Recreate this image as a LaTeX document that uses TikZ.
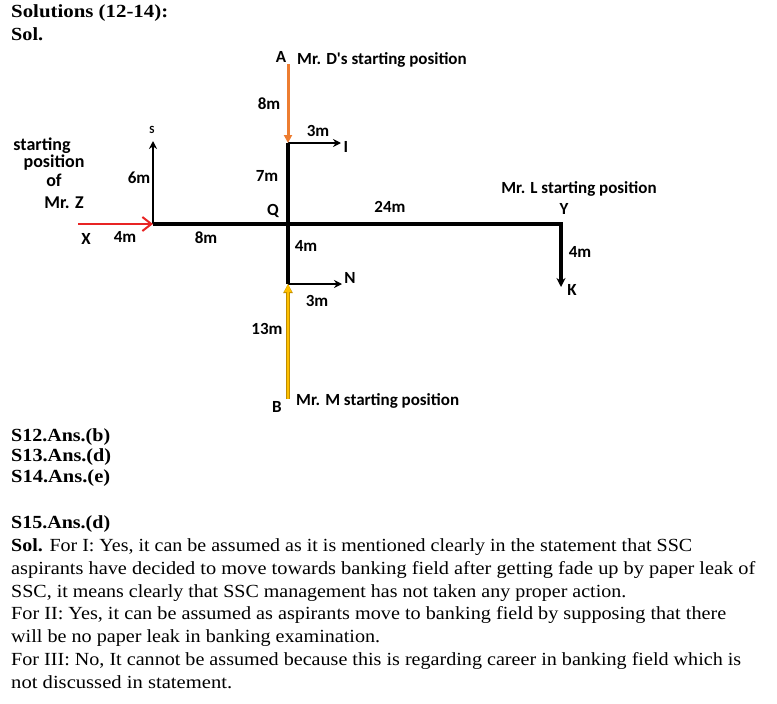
\documentclass[tikz,border=0pt]{standalone}
\usepackage{fontspec}
\usepackage{graphicx}
\setmainfont{Liberation Serif}
\newfontfamily\lblfont{Carlito}
\usetikzlibrary{arrows.meta}
\definecolor{dorange}{RGB}{237,125,49}
\definecolor{dyellow}{RGB}{255,192,0}
\definecolor{dyedge}{RGB}{190,140,0}
\definecolor{dred}{RGB}{232,36,36}
\newcommand{\fitline}[2]{\resizebox{#1}{\height}{#2}}
\tikzset{
  lbl/.style={font=\lblfont\bfseries\fontsize{17}{19}\selectfont, inner sep=0pt},
  biglbl/.style={font=\lblfont\bfseries\fontsize{18}{20}\selectfont, inner sep=0pt},
  body/.style={font=\fontsize{18.5}{21}\selectfont, anchor=base west, inner sep=0pt},
  bodyb/.style={font=\bfseries\fontsize{18.5}{21}\selectfont, anchor=base west, inner sep=0pt},
  mainline/.style={line width=4pt, black},
  smallarrow/.style={line width=2.5pt, black, -{Stealth[length=8pt,width=8pt]}},
}
\begin{document}
\begin{tikzpicture}[x=1pt,y=-1pt]
\useasboundingbox (0,0) rectangle (777,704);
% heading
\node[bodyb] (h1) at (11,18) {\fitline{157pt}{Solutions (12-14):}};
\node[bodyb] (h2) at (11,41) {\fitline{32pt}{Sol.}};
% points
\coordinate (A) at (288,64);
\coordinate (P1) at (288,143);
\coordinate (Qp) at (288,224);
\coordinate (P2) at (288,284);
\coordinate (Bp) at (288,399);
\coordinate (J) at (153,224);
\coordinate (Sp) at (153,141);
\coordinate (Xp) at (78,224);
\coordinate (Yp) at (561,224);
\coordinate (Kp) at (561,287);
\coordinate (Ip) at (341,143);
\coordinate (Np) at (342,284);
% main lines
\draw[mainline] (P1) -- (P2);
\draw[mainline, line join=miter, -{Stealth[length=9pt,width=9pt]}] (J) -- (Yp) -- (Kp);
\draw[smallarrow] (J) -- (Sp);
\draw[smallarrow] (P1) -- (Ip);
\draw[smallarrow] (P2) -- (Np);
\draw[line width=3pt, dorange, -{Triangle[length=8pt,width=8pt]}] (A) -- (P1);
\draw[line width=4pt, dyedge, -{Triangle[length=9pt,width=9pt]}] (Bp) -- (P2);
\draw[line width=2.5pt, dyellow, -{Triangle[length=8pt,width=7pt]}] (Bp) -- (P2);
\draw[line width=2pt, dred, -{Straight Barb[length=9pt,width=14pt,line width=2pt]}] (Xp) -- (J);
% labels
\node[lbl] (lA) at (281,57) {A};
\node[lbl, anchor=west] (lD) at (297,60) {Mr. D's starting position};
\node[lbl] (l8a) at (269,104) {8m};
\node[lbl] (l3a) at (318,131) {3m};
\node[lbl] (lI) at (346,147) {I};
\node[lbl, font=\lblfont\bfseries\fontsize{11}{12}\selectfont] (lS) at (152,130) {S};
\node[biglbl] (z1) at (42,146) {starting};
\node[biglbl] (z2) at (54,163) {position};
\node[biglbl] (z3) at (54,180) {of};
\node[biglbl] (z4) at (64,203) {Mr. Z};
\node[lbl] (l6) at (139,178) {6m};
\node[lbl] (l7) at (267,176) {7m};
\node[lbl] (lQ) at (273,211) {Q};
\node[lbl] (l24) at (390,207) {24m};
\node[lbl] (lX) at (86,239) {X};
\node[lbl] (l4a) at (125,237) {4m};
\node[lbl] (l8b) at (206,238) {8m};
\node[lbl] (l4b) at (306,246) {4m};
\node[lbl] (lN) at (350,278) {N};
\node[lbl] (l3b) at (317,301) {3m};
\node[lbl] (l13) at (267,329) {13m};
\node[lbl] (lB) at (277,407) {B};
\node[lbl, anchor=west] (lM) at (296,401) {Mr. M starting position};
\node[lbl] (lL) at (579,189) {Mr. L starting position};
\node[lbl] (lY) at (564,209) {Y};
\node[lbl] (l4c) at (580,252) {4m};
\node[lbl] (lK) at (572,290) {K};
% answers
\node[bodyb] (a12) at (11,441) {\fitline{99pt}{S12.Ans.(b)}};
\node[bodyb] (a13) at (11,461) {\fitline{100pt}{S13.Ans.(d)}};
\node[bodyb] (a14) at (11,482) {\fitline{99pt}{S14.Ans.(e)}};
\node[bodyb] (a15) at (11,528) {\fitline{99pt}{S15.Ans.(d)}};
\node[body] (b1) at (11,551) {\fitline{681pt}{\textbf{Sol.} For I: Yes, it can be assumed as it is mentioned clearly in the statement that SSC}};
\node[body] (b2) at (11,574) {\fitline{744pt}{aspirants have decided to move towards banking field after getting fade up by paper leak of}};
\node[body] (b3) at (11,597) {\fitline{615pt}{SSC, it means clearly that SSC management has not taken any proper action.}};
\node[body] (b4) at (11,619) {\fitline{715pt}{For II: Yes, it can be assumed as aspirants move to banking field by supposing that there}};
\node[body] (b5) at (11,642) {\fitline{369pt}{will be no paper leak in banking examination.}};
\node[body] (b6) at (11,665) {\fitline{730pt}{For III: No, It cannot be assumed because this is regarding career in banking field which is}};
\node[body] (b7) at (11,688) {\fitline{221pt}{not discussed in statement.}};
\end{tikzpicture}
\end{document}
